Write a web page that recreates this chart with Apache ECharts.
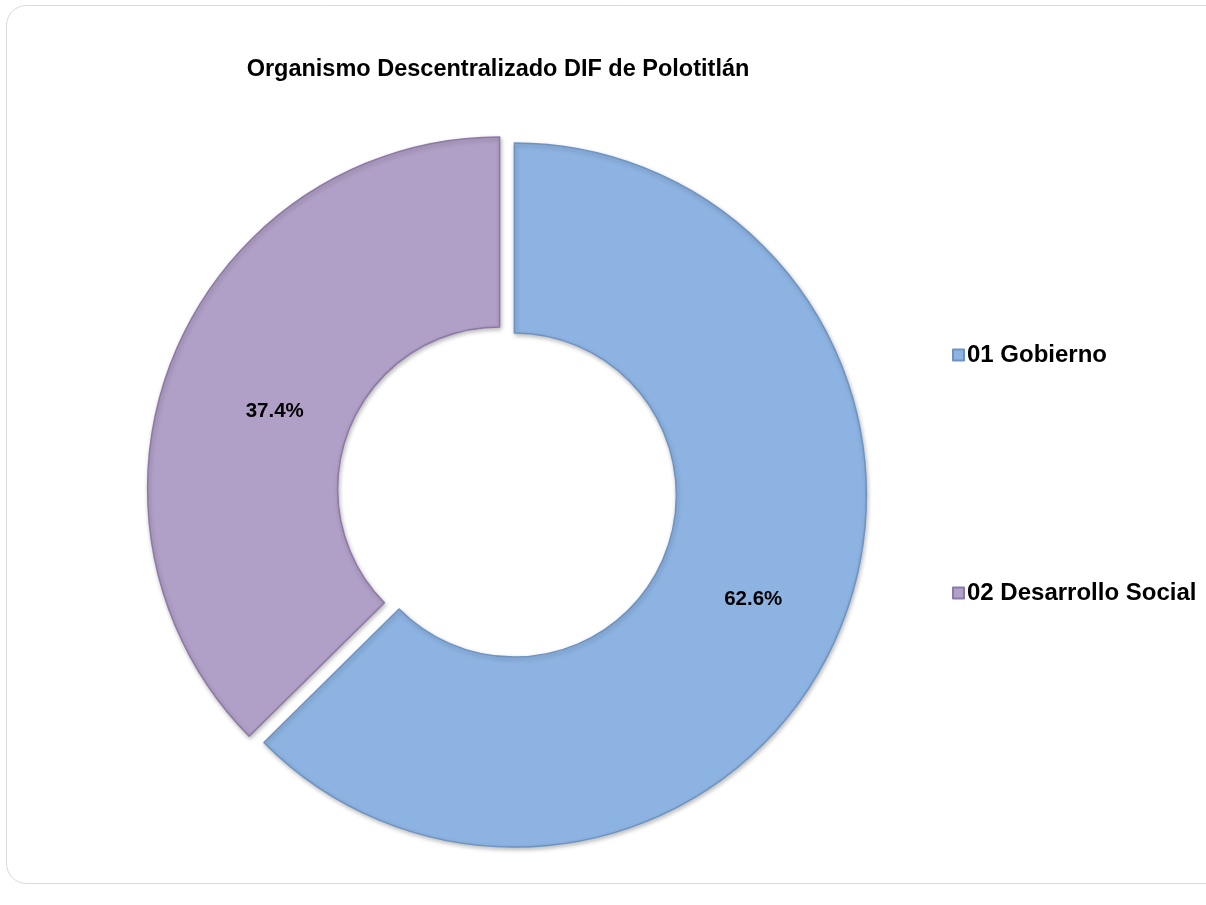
<!DOCTYPE html>
<html>
<head>
<meta charset="utf-8">
<script src="https://cdn.jsdelivr.net/npm/echarts@6/dist/echarts.min.js"></script>
<style>
html,body{margin:0;padding:0;background:#fff;}
#chart{width:1206px;height:905px;}
</style>
</head>
<body>
<div id="chart"></div>
<script>
const titleText = 'Organismo Descentralizado DIF de Polotitlán';
const categories = ['01 Gobierno', '02 Desarrollo Social'];
const values = [62.6, 37.4];
const colors = ['#8DB3E2', '#B09FC6'];
const borderColors = ['#6E93C2', '#8C79A6'];

const chart = echarts.init(document.getElementById('chart'), null, {renderer: 'canvas'});
const FONT = '"Liberation Sans", Arial, sans-serif';
const labelShift = [[-1, 4], [15, 23]];

chart.setOption({
  backgroundColor: '#ffffff',
  animation: false,
  graphic: [{
    type: 'rect',
    shape: {x: 6.5, y: 5.5, width: 1240, height: 878, r: 20},
    style: {fill: 'none', stroke: '#d9d9d9', lineWidth: 1},
    z: -1
  }],
  title: {
    text: titleText,
    left: 493,
    textAlign: 'center',
    top: 53,
    textStyle: {fontFamily: FONT, fontWeight: 'bold', fontSize: 23.5, color: '#000'}
  },
  legend: {
    orient: 'vertical',
    left: 947,
    top: 338,
    itemGap: 214,
    itemWidth: 11,
    itemHeight: 11,
    icon: 'rect',
    selectedMode: false,
    textStyle: {fontFamily: FONT, fontWeight: 'bold', fontSize: 24, lineHeight: 24, color: '#000', padding: [0, 0, 0, -2]},
    data: categories
  },
  series: [{
    type: 'pie',
    center: [507, 492],
    radius: [162, 352],
    startAngle: 90,
    clockwise: true,
    selectedMode: 'multiple',
    selectedOffset: 8,
    avoidLabelOverlap: false,
    emphasis: {disabled: true},
    label: {
      show: true,
      position: 'inside',
      formatter: p => p.value.toFixed(1) + '%',
      fontFamily: FONT,
      fontWeight: 'bold',
      fontSize: 20.5,
      color: '#000'
    },
    labelLayout: function (params) {
      const s = labelShift[params.dataIndex] || [0, 0];
      return {dx: s[0], dy: s[1]};
    },
    labelLine: {show: false},
    data: categories.map((c, i) => ({
      name: c,
      value: values[i],
      selected: true,
      itemStyle: {
        color: colors[i], borderColor: borderColors[i], borderWidth: 1.5,
        shadowBlur: 4, shadowColor: 'rgba(0,0,0,0.25)', shadowOffsetX: 1, shadowOffsetY: 2
      }
    }))
  }]
});
</script>
</body>
</html>
